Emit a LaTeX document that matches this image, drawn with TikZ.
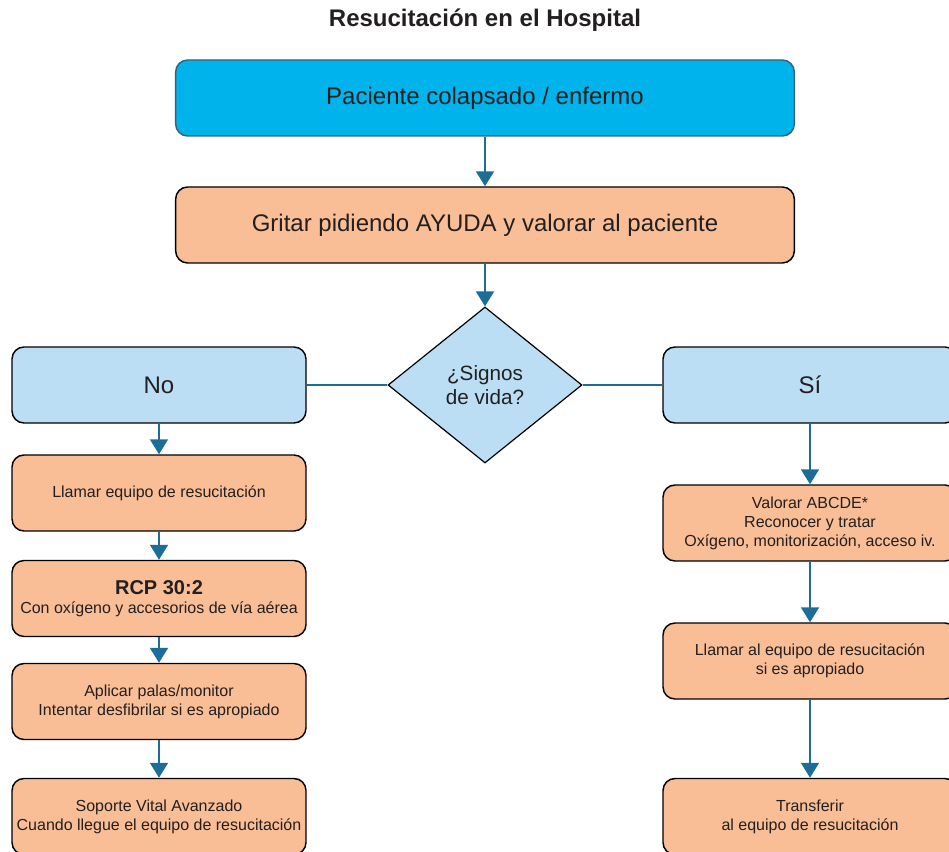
\documentclass[tikz,border=0pt]{standalone}
\usepackage{fontspec}
\setmainfont{Liberation Sans}
\usetikzlibrary{shapes.geometric,arrows.meta}
\definecolor{cyanbox}{HTML}{00B3EA}
\definecolor{cyanedge}{HTML}{35637C}
\definecolor{peach}{HTML}{F9BE95}
\definecolor{paleblue}{HTML}{BBDEF5}
\definecolor{arrowblue}{HTML}{1C6E99}
\definecolor{ink}{HTML}{231F20}
\tikzset{
  box/.style={draw=black, line width=1.1pt, rounded corners=9pt, align=center, text=ink, inner sep=2pt},
  widebox/.style={box, minimum width=464pt, minimum height=57pt, font=\fontsize{18}{22}\selectfont},
  answer/.style={box, fill=paleblue, minimum width=220.5pt, minimum height=57pt, font=\fontsize{18}{22}\selectfont},
  smallbox/.style={box, fill=peach, minimum width=220.5pt, minimum height=57pt, font=\fontsize{12}{14.25}\selectfont},
  arr/.style={draw=arrowblue, line width=1.5pt, -{Triangle[width=13.5pt,length=11.25pt]}},
  link/.style={draw=arrowblue, line width=1.5pt}
}
\begin{document}
\begin{tikzpicture}[x=0.75pt, y=-0.75pt]
    \useasboundingbox (0,0) rectangle (949,852);
    \node[font=\fontsize{18}{22}\selectfont\bfseries, text=ink] (title) at (485,20) {Resucitación en el Hospital};
    \node[widebox, fill=cyanbox, draw=cyanedge] (patient) at (485,98) {Paciente colapsado / enfermo};
    \node[widebox, fill=peach] (help) at (485,225) {Gritar pidiendo AYUDA y valorar al paciente};
    \node[diamond, draw=black, line width=0.9pt, fill=paleblue, minimum width=145.5pt, minimum height=117pt,
          inner sep=0pt, align=center, text=ink, font=\fontsize{15.5}{18}\selectfont] (signs) at (485,385) {¿Signos\\de vida?};
    \node[answer] (no) at (159,385) {No};
    \node[answer] (yes) at (810,385) {Sí};
    % lado izquierdo
    \node[smallbox] (callteam) at (159,493) {Llamar equipo de resucitación};
    \node[smallbox] (cpr) at (159,598.5) {{\fontsize{15}{15}\selectfont\bfseries RCP 30:2}\\Con oxígeno y accesorios de vía aérea};
    \node[smallbox] (pads) at (159,701.5) {Aplicar palas/monitor\\Intentar desfibrilar si es apropiado};
    \node[smallbox] (als) at (159,816.5) {Soporte Vital Avanzado\\Cuando llegue el equipo de resucitación};
    % lado derecho
    \node[smallbox] (abcde) at (810,523) {Valorar ABCDE*\\Reconocer y tratar\\Oxígeno, monitorización, acceso iv.};
    \node[smallbox] (callapp) at (810,661) {Llamar al equipo de resucitación\\si es apropiado};
    \node[smallbox] (transfer) at (810,816.5) {Transferir\\al equipo de resucitación};
    \draw[arr] (patient) -- (help);
    \draw[arr] (help) -- (signs);
    \draw[link] (signs) -- (no);
    \draw[link] (signs) -- (yes);
    \draw[arr] (no) -- (callteam);
    \draw[arr] (callteam) -- (cpr);
    \draw[arr] (cpr) -- (pads);
    \draw[arr] (pads) -- (als);
    \draw[arr] (yes) -- (abcde);
    \draw[arr] (abcde) -- (callapp);
    \draw[arr] (callapp) -- (transfer);
\end{tikzpicture}
\end{document}
